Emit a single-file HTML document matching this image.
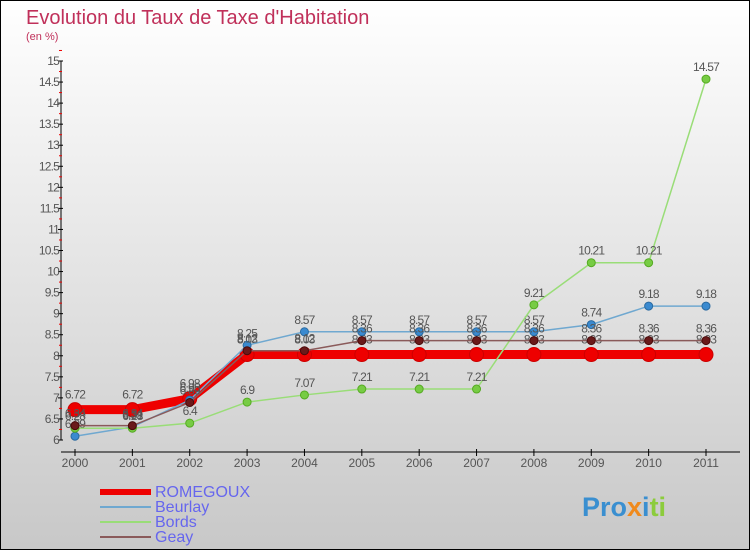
<!DOCTYPE html>
<html><head><meta charset="utf-8"><style>
html,body{margin:0;padding:0}
body{width:750px;height:550px;overflow:hidden;font-family:"Liberation Sans",sans-serif}
</style></head><body>
<svg id="c" width="750" height="550" xmlns="http://www.w3.org/2000/svg" font-family="Liberation Sans, sans-serif">
<defs><linearGradient id="bg" x1="0" y1="0" x2="0" y2="1"><stop offset="0" stop-color="#ffffff"/><stop offset="1" stop-color="#c8c8c8"/></linearGradient></defs>
<rect x="0.5" y="0.5" width="749" height="549" fill="url(#bg)" stroke="#000"/>
<text x="26" y="24" font-size="20" fill="#c0305a">Evolution du Taux de Taxe d'Habitation</text>
<text x="26" y="40" font-size="11" fill="#c0305a">(en %)</text>
<g id="axes"></g><g id="series"></g><g id="legend"></g>
<text x="582" y="516" font-size="27" font-weight="bold"><tspan fill="#3a8fd0">Pro</tspan><tspan fill="#f08a1c">x</tspan><tspan fill="#3a8fd0">i</tspan><tspan fill="#8ccc3c">ti</tspan></text>
</svg>
<script>
const years=[2000,2001,2002,2003,2004,2005,2006,2007,2008,2009,2010,2011];
const romegoux=[6.72,6.72,6.98,8.03,8.03,8.03,8.03,8.03,8.03,8.03,8.03,8.03];
const beurlay=[6.09,6.31,6.95,8.25,8.57,8.57,8.57,8.57,8.57,8.74,9.18,9.18];
const bords=[6.28,6.28,6.4,6.9,7.07,7.21,7.21,7.21,9.21,10.21,10.21,14.57];
const geay=[6.34,6.34,6.89,8.12,8.12,8.36,8.36,8.36,8.36,8.36,8.36,8.36];
const yTicks=[6,6.5,7,7.5,8,8.5,9,9.5,10,10.5,11,11.5,12,12.5,13,13.5,14,14.5,15];
const NS="http://www.w3.org/2000/svg";
const X=i=>75+i*(706-75)/(years.length-1);
const Y=v=>440-(v-6)*(440-61)/9;
function mk(tag,at,parent){const e=document.createElementNS(NS,tag);for(const k in at)e.setAttribute(k,at[k]);parent.appendChild(e);return e;}
const ax=document.getElementById('axes');
let e=mk('line',{x1:61,y1:Y(15),x2:61,y2:Y(6),stroke:'#000'},ax);


e=mk('line',{x1:61,y1:452,x2:740,y2:452,stroke:'#000'},ax);


yTicks.forEach(t=>{
 mk('line',{x1:58,y1:Y(t),x2:63,y2:Y(t),stroke:'#000'},ax);
 mk('line',{x1:59,y1:Y(t+0.25),x2:62,y2:Y(t+0.25),stroke:'#e00'},ax);
 e=mk('text',{x:59,y:Y(t)+4,'font-size':12,'text-anchor':'end',fill:'#555','letter-spacing':'-0.8'},ax);
 e.textContent=String(t);
 
 
});
years.forEach((yr,i)=>{
 mk('line',{x1:X(i),y1:449,x2:X(i),y2:456,stroke:'#000'},ax);
 e=mk('text',{x:X(i),y:467,'font-size':12,'text-anchor':'middle',fill:'#555'},ax);
 e.textContent=yr;
 
 
});
const sg=document.getElementById('series');
function draw(name,vals,color,w,r,dot,stroke){
 const g=mk('g',{},sg);
 
 
 const p=mk('polyline',{points:vals.map((v,i)=>X(i)+','+Y(v)).join(' '),fill:'none',stroke:color,'stroke-width':w},g);
 
 
 vals.forEach((v,i)=>{
  const c=mk('circle',{cx:X(i),cy:Y(v),r:r,fill:dot,stroke:stroke,'stroke-width':1},g);
  
  
  const t=mk('text',{x:X(i),y:Y(v)-r-4,'font-size':12,'text-anchor':'middle',fill:'#555','letter-spacing':'-0.8'},g);
  t.textContent=String(v);
  
  
 });
}
draw('romegoux',romegoux,'#ee0000',9,7,'#ee0000','#cc0000');
draw('beurlay',beurlay,'#6fa8d0',1.5,4,'#3a8ad0','#2a6aa0');
draw('bords',bords,'#99dd77',1.5,4,'#77cc44','#55aa22');
draw('geay',geay,'#8a5a5a',1.5,4,'#6a1a1a','#4a0a0a');
const lg=document.getElementById('legend');
[['ROMEGOUX','#ee0000',6,492],['Beurlay','#6fa8d0',2,507],['Bords','#99dd77',2,522],['Geay','#8a5a5a',2,537]].forEach(([n,c,w,y])=>{
 const g=mk('g',{},lg);
 
 
 mk('line',{x1:100,y1:y,x2:151,y2:y,stroke:c,'stroke-width':w},g);
 const t=mk('text',{x:155,y:y+5,'font-size':16,fill:'#6666ee'},g);
 t.textContent=n;
});
</script>
</body></html>
